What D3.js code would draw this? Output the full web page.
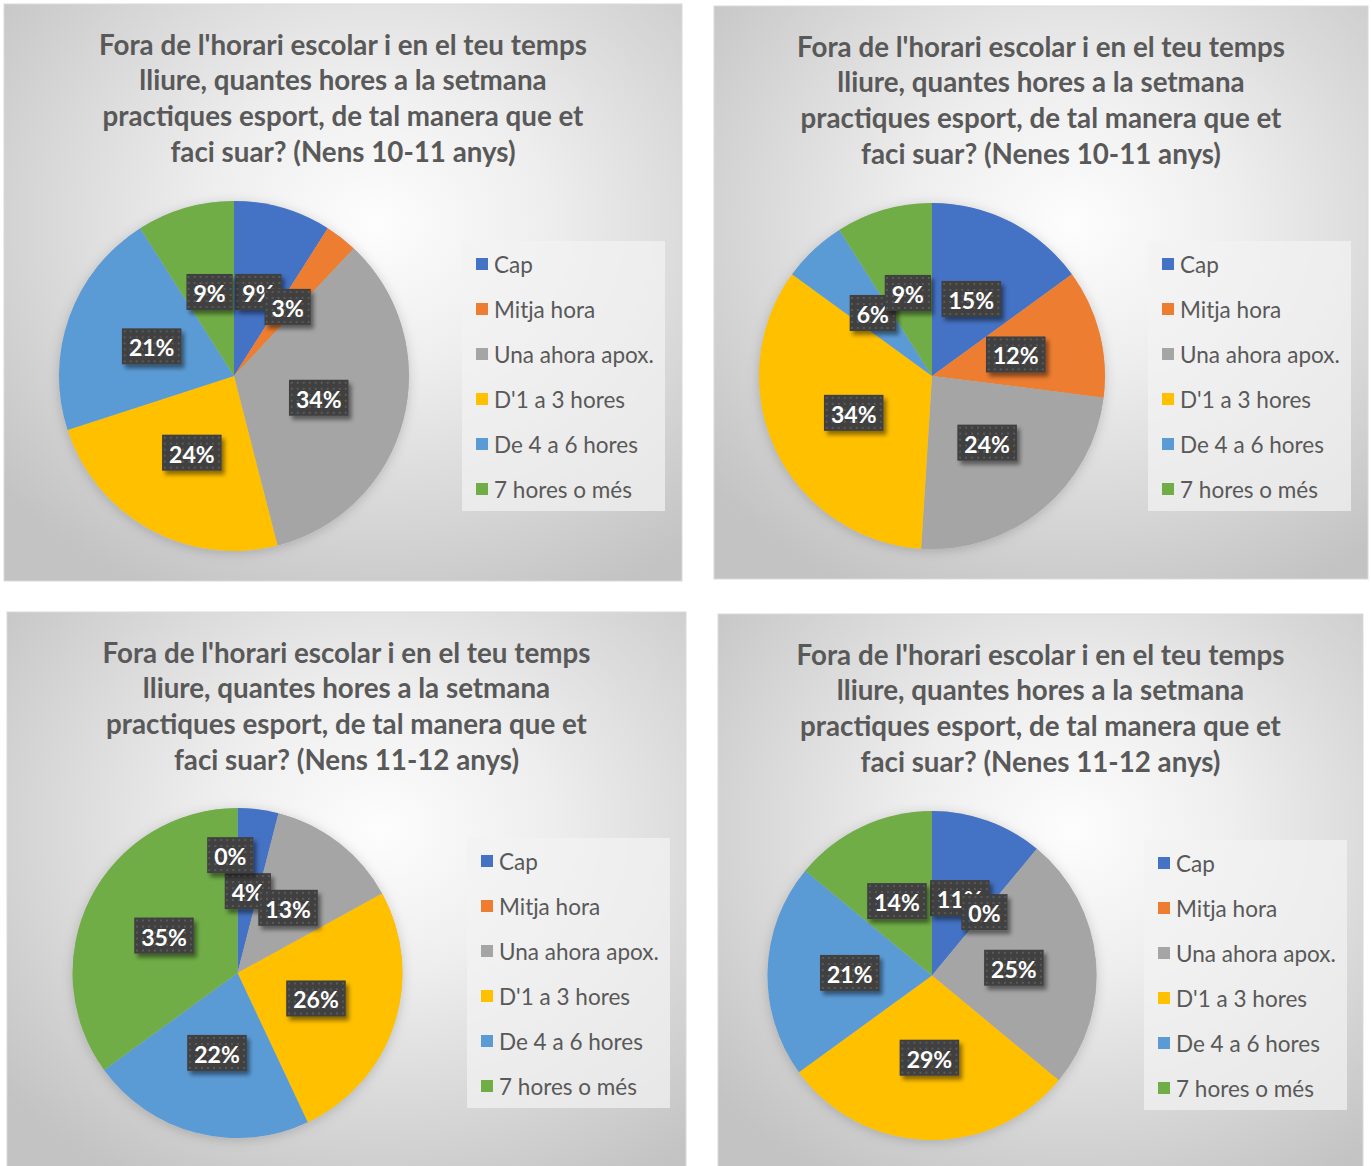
<!DOCTYPE html>
<html>
<head>
<meta charset="utf-8">
<script src="https://cdn.jsdelivr.net/npm/d3@7"></script>
<style>
  html, body { margin: 0; padding: 0; background: #ffffff; }
  svg { display: block; }
</style>
</head>
<body>
<svg id="chart" width="1372" height="1166"></svg>
<script>
// ---------------- DATA ----------------
const categories = ["Cap", "Mitja hora", "Una ahora apox.", "D'1 a 3 hores", "De 4 a 6 hores", "7 hores o més"];
const colors = ["#4472C4", "#ED7D31", "#A5A5A5", "#FFC000", "#5B9BD5", "#70AD47"];

const nens1011  = [9, 3, 34, 24, 21, 9];
const nenes1011 = [15, 12, 24, 34, 6, 9];
const nens1112  = [4, 0, 13, 26, 22, 35];
const nenes1112 = [11, 0, 25, 29, 21, 14];

const titleCommon = ["Fora de l'horari escolar i en el teu temps",
                     "lliure, quantes hores a la setmana",
                     "practiques esport, de tal manera que et"];
const titleLast = ["faci suar? (Nens 10-11 anys)",
                   "faci suar? (Nenes 10-11 anys)",
                   "faci suar? (Nens 11-12 anys)",
                   "faci suar? (Nenes 11-12 anys)"];
const seriesList = [nens1011, nenes1011, nens1112, nenes1112];

// ---------------- LAYOUT ----------------
const panels = [
  { x: 4,   y: 4,   w: 678, h: 577, cx: 230,   cy: 372,   r: 175,   lx: 458, ly: 237 },
  { x: 714, y: 6,   w: 654, h: 573, cx: 218,   cy: 370,   r: 173,   lx: 434, ly: 235 },
  { x: 7,   y: 612, w: 679, h: 570, cx: 230.5, cy: 361,   r: 165,   lx: 460, ly: 226 },
  { x: 718, y: 614, w: 645, h: 570, cx: 214,   cy: 361.5, r: 164.5, lx: 426, ly: 226 }
];

const svg = d3.select("#chart");
const defs = svg.append("defs");

const grad = defs.append("radialGradient").attr("id", "bgGrad")
  .attr("cx", "55%").attr("cy", "38%").attr("r", "72%");
grad.append("stop").attr("offset", "0%").attr("stop-color", "#fdfdfd");
grad.append("stop").attr("offset", "35%").attr("stop-color", "#eeeeee");
grad.append("stop").attr("offset", "100%").attr("stop-color", "#c3c3c3");

const pat = defs.append("pattern").attr("id", "dots")
  .attr("width", 6).attr("height", 6).attr("patternUnits", "userSpaceOnUse");
pat.append("rect").attr("width", 6).attr("height", 6).attr("fill", "#3f3f3f");
pat.append("rect").attr("x", 2).attr("y", 2).attr("width", 2).attr("height", 2).attr("fill", "#5a5a5a");

const shadow = defs.append("filter").attr("id", "lblShadow")
  .attr("x", "-30%").attr("y", "-30%").attr("width", "170%").attr("height", "170%");
shadow.append("feDropShadow").attr("dx", 3).attr("dy", 4).attr("stdDeviation", 2)
  .attr("flood-color", "#000").attr("flood-opacity", 0.45);

const pieShadow = defs.append("filter").attr("id", "pieShadow")
  .attr("x", "-20%").attr("y", "-20%").attr("width", "140%").attr("height", "140%");
pieShadow.append("feDropShadow").attr("dx", 0).attr("dy", 2).attr("stdDeviation", 6)
  .attr("flood-color", "#000").attr("flood-opacity", 0.18);

const FONT = "Lato, 'Open Sans', 'DejaVu Sans', sans-serif";

function fitFont(textSel, target) {
  const w = textSel.node().getComputedTextLength();
  return w;
}

panels.forEach((p, i) => {
  const values = seriesList[i];
  const g = svg.append("g").attr("transform", `translate(${p.x},${p.y})`);

  g.append("rect").attr("width", p.w).attr("height", p.h)
    .attr("fill", "url(#bgGrad)").attr("stroke", "#d9d9d9").attr("stroke-width", 1);

  // Title
  const lines = titleCommon.concat([titleLast[i]]);
  const tg = g.append("g");
  // measure font size to fit first line to target width
  const probe = tg.append("text").attr("font-family", FONT).attr("font-weight", 700)
    .attr("font-size", 25).text(lines[0]);
  const pw = probe.node().getComputedTextLength();
  probe.remove();
  const titleSize = 25 * 488 / pw;
  lines.forEach((ln, k) => {
    tg.append("text")
      .attr("x", p.w / 2).attr("y", 40 + k * 35.7)
      .attr("text-anchor", "middle").attr("dominant-baseline", "central")
      .attr("font-family", FONT).attr("font-weight", 700)
      .attr("font-size", titleSize).attr("fill", "#595959")
      .text(ln);
  });

  // Pie
  const pie = d3.pie().sort(null).value(d => d)(values);
  const arc = d3.arc().innerRadius(0).outerRadius(p.r);
  const pg = g.append("g").attr("transform", `translate(${p.cx},${p.cy})`);
  pg.append("circle").attr("r", p.r).attr("fill", "#bbbbbb").attr("filter", "url(#pieShadow)");
  pg.selectAll("path.slice").data(pie).join("path")
    .attr("class", "slice")
    .attr("d", arc)
    .attr("fill", (d, j) => colors[j]);

  // Labels
  const lblArc = d3.arc().innerRadius(p.r * 0.5).outerRadius(p.r * 0.5);
  const placed = [];
  const lblSize = 23;
  const bh = 36;
  pie.forEach((d, j) => {
    const [lx, ly] = lblArc.centroid(d);
    const txt = values[j] + "%";
    const lg = pg.append("g");
    const t = lg.append("text").attr("font-family", FONT).attr("font-weight", 700)
      .attr("font-size", lblSize).attr("fill", "#ffffff")
      .attr("text-anchor", "middle").attr("dominant-baseline", "central").text(txt);
    const tw = t.node().getComputedTextLength();
    const bw = tw + 14;
    let x = lx, y = ly;
    // avoid heavy overlap with an already placed label
    placed.forEach(b => {
      const ox = Math.max(0, Math.min(x + bw / 2, b.x + b.w / 2) - Math.max(x - bw / 2, b.x - b.w / 2));
      const oy = Math.max(0, Math.min(y + bh / 2, b.y + bh / 2) - Math.max(y - bh / 2, b.y - bh / 2));
      if (ox * oy > 0.5 * bw * bh) {
        y = b.y - bh;
        x = x - bw * 0.6;
      }
    });
    placed.push({ x, y, w: bw });
    lg.attr("transform", `translate(${x},${y})`);
    lg.insert("rect", "text").attr("x", -bw / 2).attr("y", -bh / 2)
      .attr("width", bw).attr("height", bh)
      .attr("fill", "url(#dots)").attr("filter", "url(#lblShadow)");
    t.attr("y", 1);
  });

  // Legend
  const leg = g.append("g").attr("transform", `translate(${p.lx},${p.ly})`);
  leg.append("rect").attr("width", 203).attr("height", 270)
    .attr("fill", "#f2f2f2").attr("opacity", 0.72);
  const probe2 = leg.append("text").attr("font-family", FONT).attr("font-size", 20).text(categories[2]);
  const lw = probe2.node().getComputedTextLength();
  probe2.remove();
  const legSize = 20 * 160 / lw;
  categories.forEach((c, j) => {
    const yy = 23 + j * 45;
    leg.append("rect").attr("x", 14).attr("y", yy - 6).attr("width", 12).attr("height", 12)
      .attr("fill", colors[j]);
    leg.append("text").attr("x", 32).attr("y", yy)
      .attr("dominant-baseline", "central")
      .attr("font-family", FONT).attr("font-size", legSize).attr("fill", "#595959")
      .text(c);
  });
});
</script>
</body>
</html>
